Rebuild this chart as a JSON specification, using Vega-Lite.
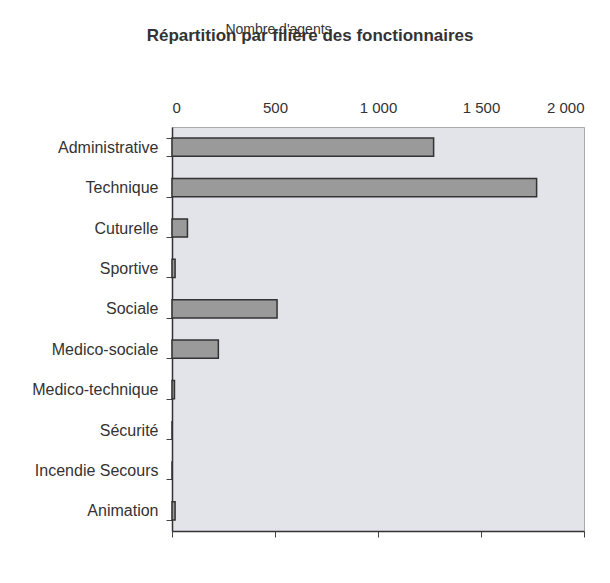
{
  "$schema": "https://vega.github.io/schema/vega-lite/v6.json",
  "autosize": {"type": "none"},
  "width": 412,
  "height": 404,
  "padding": {"left": 172, "top": 127, "right": 26, "bottom": 52},
  "background": "white",
  "title": {
    "text": "Répartition par filière des fonctionnaires",
    "anchor": "middle",
    "frame": "bounds",
    "font": "Liberation Sans",
    "fontSize": 17,
    "fontWeight": "bold",
    "color": "#333333",
    "offset": 0,
    "dx": 2,
    "dy": 23
  },
  "data": {
    "values": [
      {"filiere": "Administrative", "agents": 1270},
      {"filiere": "Technique", "agents": 1770},
      {"filiere": "Cuturelle", "agents": 75},
      {"filiere": "Sportive", "agents": 15},
      {"filiere": "Sociale", "agents": 510},
      {"filiere": "Medico-sociale", "agents": 225},
      {"filiere": "Medico-technique", "agents": 12},
      {"filiere": "Sécurité", "agents": 0},
      {"filiere": "Incendie Secours", "agents": 0},
      {"filiere": "Animation", "agents": 15}
    ]
  },
  "encoding": {
    "y": {
      "field": "filiere",
      "type": "nominal",
      "sort": null,
      "title": null,
      "scale": {"paddingInner": 0.55, "paddingOuter": 0.275},
      "axis": {
        "labelFont": "Liberation Sans",
        "labelFontSize": 16,
        "labelColor": "#333333",
        "labelPadding": 8,
        "tickSize": 6,
        "tickColor": "#444444",
        "tickBand": "extent",
        "domainColor": "#333333",
        "domainWidth": 1.5
      }
    }
  },
  "layer": [
    {
      "mark": {"type": "bar", "color": "#9a9a9a", "stroke": "#333333", "strokeWidth": 1.5},
      "encoding": {
        "x": {
          "field": "agents",
          "type": "quantitative",
          "scale": {"domain": [0, 2000], "nice": false},
          "title": "Nombre d'agents",
          "axis": {
            "orient": "top",
            "values": [0, 500, 1000, 1500, 2000],
            "labelExpr": "replace(format(datum.value, ',d'), ',', ' ')",
            "labelFont": "Liberation Sans",
            "labelFontSize": 15,
            "labelColor": "#333333",
            "labelPadding": 12,
            "ticks": false,
            "domain": false,
            "grid": false,
            "titleFont": "Liberation Sans",
            "titleFontSize": 14,
            "titleFontWeight": "normal",
            "titleColor": "#333333",
            "titleX": 106,
            "titleY": -94,
            "titleAlign": "center",
            "titleBaseline": "alphabetic"
          }
        }
      }
    },
    {
      "mark": {"type": "bar", "opacity": 0},
      "encoding": {
        "x": {
          "field": "agents",
          "type": "quantitative",
          "axis": {
            "orient": "bottom",
            "values": [0, 500, 1000, 1500, 2000],
            "labels": false,
            "title": null,
            "grid": false,
            "tickSize": 6,
            "tickColor": "#444444",
            "domainColor": "#333333",
            "domainWidth": 1.5
          }
        }
      }
    }
  ],
  "resolve": {"axis": {"x": "independent"}},
  "config": {
    "view": {"fill": "#e3e3ea", "stroke": "#aaaaaa", "strokeWidth": 1}
  }
}
